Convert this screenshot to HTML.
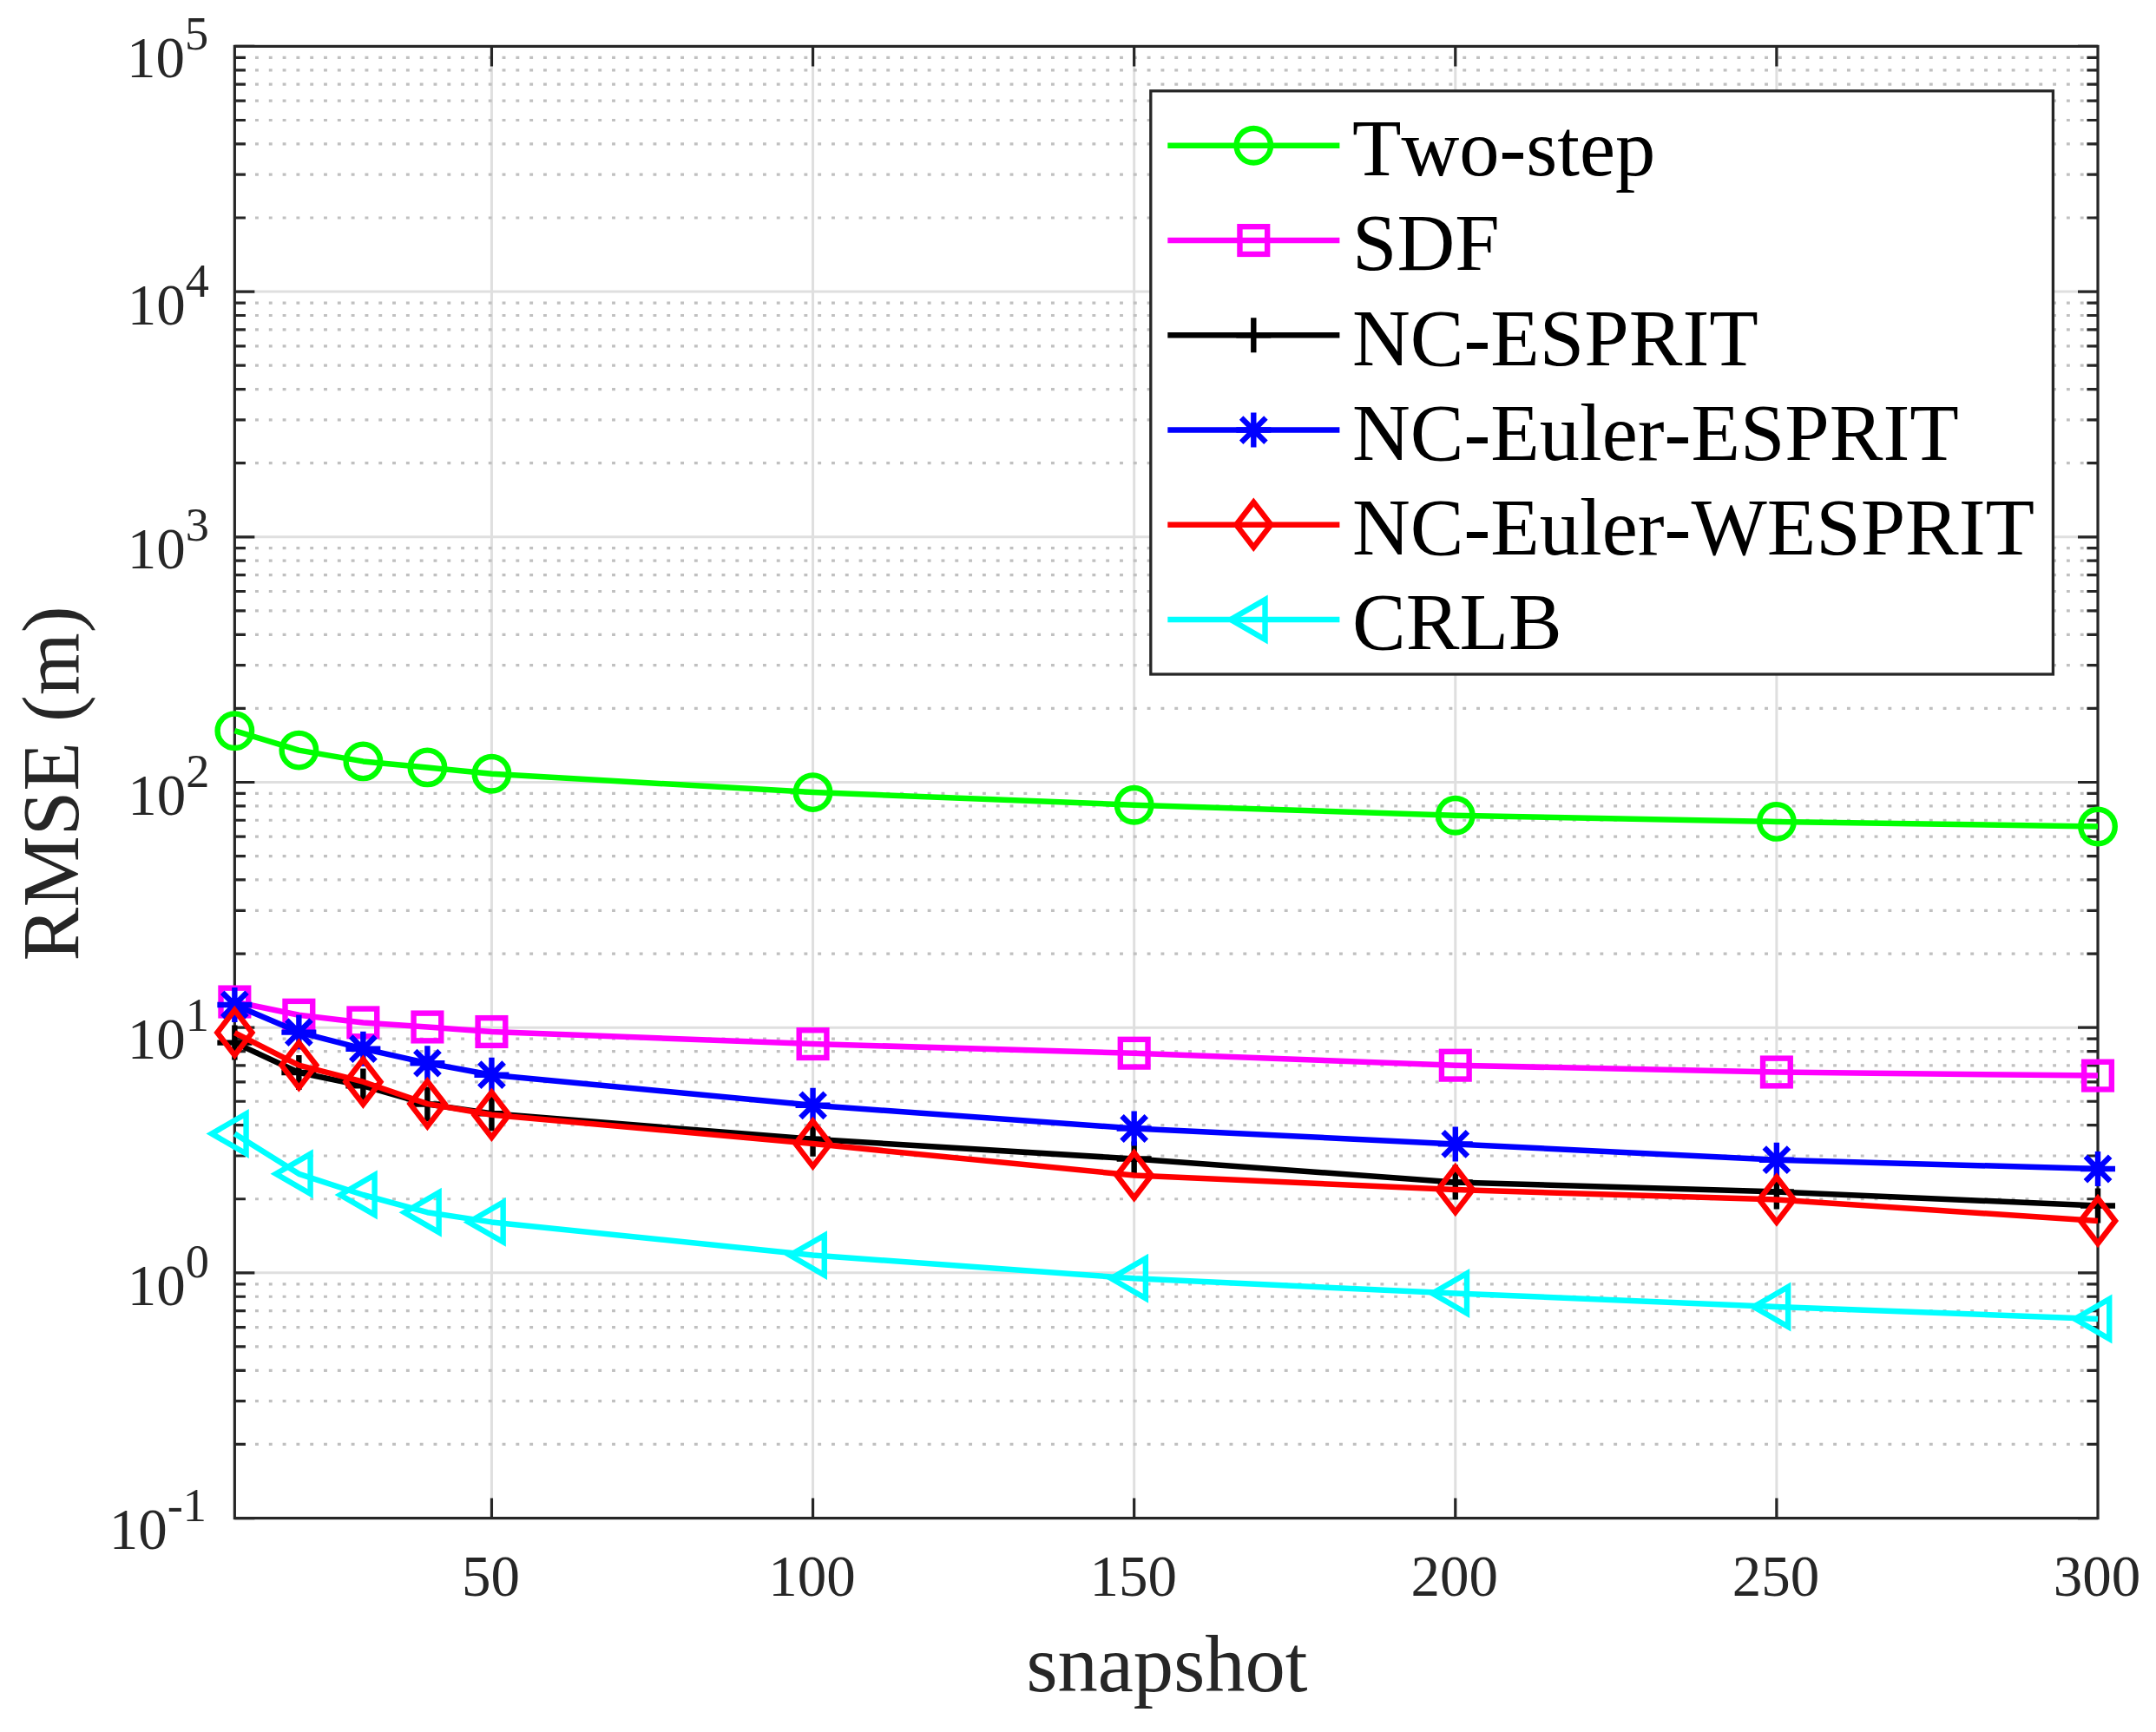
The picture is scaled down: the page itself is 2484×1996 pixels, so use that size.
<!DOCTYPE html>
<html lang="en"><head><meta charset="utf-8"><title>RMSE versus snapshot</title>
<style>html,body{margin:0;padding:0;background:#fff}svg{display:block}text{font-family:"Liberation Serif", "DejaVu Serif", serif;white-space:pre;font-kerning:none}.tk{font-size:67px;fill:#262626}.sp{font-size:54.3px;fill:#262626}.lb{font-size:92.6px;fill:#262626}.lg{font-size:92.5px;fill:#000}</style></head><body>
<svg width="2484" height="1996" viewBox="0 0 2484 1996">
<rect width="2484" height="1996" fill="#fff"/>
<path d="M566.44 53.4V1749.55M936.55 53.4V1749.55M1306.66 53.4V1749.55M1676.78 53.4V1749.55M2046.89 53.4V1749.55M270.35 1466.86H2417M270.35 1184.17H2417M270.35 901.48H2417M270.35 618.78H2417M270.35 336.09H2417" fill="none" stroke="#dfdfdf" stroke-width="3"/>
<path d="M294 1664.45H2417M294 1614.67H2417M294 1579.35H2417M294 1551.96H2417M294 1529.57H2417M294 1510.65H2417M294 1494.25H2417M294 1479.79H2417M294 1381.76H2417M294 1331.98H2417M294 1296.66H2417M294 1269.27H2417M294 1246.88H2417M294 1227.96H2417M294 1211.56H2417M294 1197.1H2417M294 1099.07H2417M294 1049.29H2417M294 1013.97H2417M294 986.57H2417M294 964.19H2417M294 945.26H2417M294 928.87H2417M294 914.41H2417M294 816.38H2417M294 766.6H2417M294 731.28H2417M294 703.88H2417M294 681.5H2417M294 662.57H2417M294 646.18H2417M294 631.72H2417M294 533.68H2417M294 483.91H2417M294 448.59H2417M294 421.19H2417M294 398.81H2417M294 379.88H2417M294 363.49H2417M294 349.03H2417M294 250.99H2417M294 201.21H2417M294 165.89H2417M294 138.5H2417M294 116.11H2417M294 97.19H2417M294 80.8H2417M294 66.34H2417" fill="none" stroke="#c0c0c0" stroke-width="3.2" stroke-dasharray="3.9 11.91"/>
<path d="M566.44 1749.55V1726.55M566.44 53.4V76.4M936.55 1749.55V1726.55M936.55 53.4V76.4M1306.66 1749.55V1726.55M1306.66 53.4V76.4M1676.78 1749.55V1726.55M1676.78 53.4V76.4M2046.89 1749.55V1726.55M2046.89 53.4V76.4M270.35 1749.55H293.35M2417 1749.55H2394M270.35 1466.86H293.35M2417 1466.86H2394M270.35 1184.17H293.35M2417 1184.17H2394M270.35 901.48H293.35M2417 901.48H2394M270.35 618.78H293.35M2417 618.78H2394M270.35 336.09H293.35M2417 336.09H2394M270.35 53.4H293.35M2417 53.4H2394M270.35 1664.45H282.95M2417 1664.45H2404.4M270.35 1614.67H282.95M2417 1614.67H2404.4M270.35 1579.35H282.95M2417 1579.35H2404.4M270.35 1551.96H282.95M2417 1551.96H2404.4M270.35 1529.57H282.95M2417 1529.57H2404.4M270.35 1510.65H282.95M2417 1510.65H2404.4M270.35 1494.25H282.95M2417 1494.25H2404.4M270.35 1479.79H282.95M2417 1479.79H2404.4M270.35 1381.76H282.95M2417 1381.76H2404.4M270.35 1331.98H282.95M2417 1331.98H2404.4M270.35 1296.66H282.95M2417 1296.66H2404.4M270.35 1269.27H282.95M2417 1269.27H2404.4M270.35 1246.88H282.95M2417 1246.88H2404.4M270.35 1227.96H282.95M2417 1227.96H2404.4M270.35 1211.56H282.95M2417 1211.56H2404.4M270.35 1197.1H282.95M2417 1197.1H2404.4M270.35 1099.07H282.95M2417 1099.07H2404.4M270.35 1049.29H282.95M2417 1049.29H2404.4M270.35 1013.97H282.95M2417 1013.97H2404.4M270.35 986.57H282.95M2417 986.57H2404.4M270.35 964.19H282.95M2417 964.19H2404.4M270.35 945.26H282.95M2417 945.26H2404.4M270.35 928.87H282.95M2417 928.87H2404.4M270.35 914.41H282.95M2417 914.41H2404.4M270.35 816.38H282.95M2417 816.38H2404.4M270.35 766.6H282.95M2417 766.6H2404.4M270.35 731.28H282.95M2417 731.28H2404.4M270.35 703.88H282.95M2417 703.88H2404.4M270.35 681.5H282.95M2417 681.5H2404.4M270.35 662.57H282.95M2417 662.57H2404.4M270.35 646.18H282.95M2417 646.18H2404.4M270.35 631.72H282.95M2417 631.72H2404.4M270.35 533.68H282.95M2417 533.68H2404.4M270.35 483.91H282.95M2417 483.91H2404.4M270.35 448.59H282.95M2417 448.59H2404.4M270.35 421.19H282.95M2417 421.19H2404.4M270.35 398.81H282.95M2417 398.81H2404.4M270.35 379.88H282.95M2417 379.88H2404.4M270.35 363.49H282.95M2417 363.49H2404.4M270.35 349.03H282.95M2417 349.03H2404.4M270.35 250.99H282.95M2417 250.99H2404.4M270.35 201.21H282.95M2417 201.21H2404.4M270.35 165.89H282.95M2417 165.89H2404.4M270.35 138.5H282.95M2417 138.5H2404.4M270.35 116.11H282.95M2417 116.11H2404.4M270.35 97.19H282.95M2417 97.19H2404.4M270.35 80.8H282.95M2417 80.8H2404.4M270.35 66.34H282.95M2417 66.34H2404.4" fill="none" stroke="#262626" stroke-width="3.2"/>
<rect x="270.35" y="53.4" width="2146.65" height="1696.15" fill="none" stroke="#262626" stroke-width="3.2"/>
<text class="tk" x="565.44" y="1839.1" text-anchor="middle">50</text>
<text class="tk" x="935.55" y="1839.1" text-anchor="middle">100</text>
<text class="tk" x="1305.66" y="1839.1" text-anchor="middle">150</text>
<text class="tk" x="1675.78" y="1839.1" text-anchor="middle">200</text>
<text class="tk" x="2045.89" y="1839.1" text-anchor="middle">250</text>
<text class="tk" x="2416" y="1839.1" text-anchor="middle">300</text>
<text class="tk" x="238" y="1785" text-anchor="end">10<tspan class="sp" dy="-31.6">-1</tspan></text>
<text class="tk" x="241" y="1503.91" text-anchor="end">10<tspan class="sp" dy="-31.6">0</tspan></text>
<text class="tk" x="241" y="1219.77" text-anchor="end">10<tspan class="sp" dy="-31.6">1</tspan></text>
<text class="tk" x="241.3" y="938.88" text-anchor="end">10<tspan class="sp" dy="-31.6">2</tspan></text>
<text class="tk" x="240.9" y="654.78" text-anchor="end">10<tspan class="sp" dy="-31.6">3</tspan></text>
<text class="tk" x="241" y="373.79" text-anchor="end">10<tspan class="sp" dy="-31.6">4</tspan></text>
<text class="tk" x="240.2" y="88.9" text-anchor="end">10<tspan class="sp" dy="-31.6">5</tspan></text>
<text class="lb" x="1344.47" y="1948.7" text-anchor="middle">snapshot</text>
<text class="lb" transform="translate(90.1 902.88) rotate(-90)" text-anchor="middle">RMSE (m)</text>
<polyline points="270.35,842.2 344.37,864.6 418.39,877.4 492.42,884.4 566.44,891.8 936.55,913.1 1306.66,927.7 1676.78,939.8 2046.89,946.9 2417,952.5" fill="none" stroke="#00ff00" stroke-width="6.5" stroke-linejoin="round"/>
<g><circle cx="270.35" cy="842.2" r="19.75" fill="none" stroke="#00ff00" stroke-width="6.4"/><circle cx="344.37" cy="864.6" r="19.75" fill="none" stroke="#00ff00" stroke-width="6.4"/><circle cx="418.39" cy="877.4" r="19.75" fill="none" stroke="#00ff00" stroke-width="6.4"/><circle cx="492.42" cy="884.4" r="19.75" fill="none" stroke="#00ff00" stroke-width="6.4"/><circle cx="566.44" cy="891.8" r="19.75" fill="none" stroke="#00ff00" stroke-width="6.4"/><circle cx="936.55" cy="913.1" r="19.75" fill="none" stroke="#00ff00" stroke-width="6.4"/><circle cx="1306.66" cy="927.7" r="19.75" fill="none" stroke="#00ff00" stroke-width="6.4"/><circle cx="1676.78" cy="939.8" r="19.75" fill="none" stroke="#00ff00" stroke-width="6.4"/><circle cx="2046.89" cy="946.9" r="19.75" fill="none" stroke="#00ff00" stroke-width="6.4"/><circle cx="2417" cy="952.5" r="19.75" fill="none" stroke="#00ff00" stroke-width="6.4"/></g>
<polyline points="270.35,1154.5 344.37,1169.7 418.39,1178.4 492.42,1183.5 566.44,1189 936.55,1203.1 1306.66,1213.7 1676.78,1227.7 2046.89,1235.5 2417,1239.6" fill="none" stroke="#ff00ff" stroke-width="6.5" stroke-linejoin="round"/>
<g><rect x="254.5" y="1138.65" width="31.7" height="31.7" fill="none" stroke="#ff00ff" stroke-width="6.4"/><rect x="328.52" y="1153.85" width="31.7" height="31.7" fill="none" stroke="#ff00ff" stroke-width="6.4"/><rect x="402.54" y="1162.55" width="31.7" height="31.7" fill="none" stroke="#ff00ff" stroke-width="6.4"/><rect x="476.57" y="1167.65" width="31.7" height="31.7" fill="none" stroke="#ff00ff" stroke-width="6.4"/><rect x="550.59" y="1173.15" width="31.7" height="31.7" fill="none" stroke="#ff00ff" stroke-width="6.4"/><rect x="920.7" y="1187.25" width="31.7" height="31.7" fill="none" stroke="#ff00ff" stroke-width="6.4"/><rect x="1290.81" y="1197.85" width="31.7" height="31.7" fill="none" stroke="#ff00ff" stroke-width="6.4"/><rect x="1660.93" y="1211.85" width="31.7" height="31.7" fill="none" stroke="#ff00ff" stroke-width="6.4"/><rect x="2031.04" y="1219.65" width="31.7" height="31.7" fill="none" stroke="#ff00ff" stroke-width="6.4"/><rect x="2401.15" y="1223.75" width="31.7" height="31.7" fill="none" stroke="#ff00ff" stroke-width="6.4"/></g>
<polyline points="270.35,1201.6 344.37,1236 418.39,1251.4 492.42,1272.5 566.44,1283.3 936.55,1312.8 1306.66,1335.5 1676.78,1362.5 2046.89,1373.5 2417,1389.5" fill="none" stroke="#000000" stroke-width="6.5" stroke-linejoin="round"/>
<g><path d="M250.35 1201.6H290.35M270.35 1181.6V1221.6" fill="none" stroke="#000000" stroke-width="6.4"/><path d="M324.37 1236H364.37M344.37 1216V1256" fill="none" stroke="#000000" stroke-width="6.4"/><path d="M398.39 1251.4H438.39M418.39 1231.4V1271.4" fill="none" stroke="#000000" stroke-width="6.4"/><path d="M472.42 1272.5H512.42M492.42 1252.5V1292.5" fill="none" stroke="#000000" stroke-width="6.4"/><path d="M546.44 1283.3H586.44M566.44 1263.3V1303.3" fill="none" stroke="#000000" stroke-width="6.4"/><path d="M916.55 1312.8H956.55M936.55 1292.8V1332.8" fill="none" stroke="#000000" stroke-width="6.4"/><path d="M1286.66 1335.5H1326.66M1306.66 1315.5V1355.5" fill="none" stroke="#000000" stroke-width="6.4"/><path d="M1656.78 1362.5H1696.78M1676.78 1342.5V1382.5" fill="none" stroke="#000000" stroke-width="6.4"/><path d="M2026.89 1373.5H2066.89M2046.89 1353.5V1393.5" fill="none" stroke="#000000" stroke-width="6.4"/><path d="M2397 1389.5H2437M2417 1369.5V1409.5" fill="none" stroke="#000000" stroke-width="6.4"/></g>
<polyline points="270.35,1158 344.37,1189.6 418.39,1208.7 492.42,1225.2 566.44,1238.7 936.55,1273.8 1306.66,1300.5 1676.78,1318.4 2046.89,1336.7 2417,1347" fill="none" stroke="#0000ff" stroke-width="6.5" stroke-linejoin="round"/>
<g><path d="M250.35 1158H290.35M270.35 1138V1178M256.21 1143.86L284.49 1172.14M256.21 1172.14L284.49 1143.86" fill="none" stroke="#0000ff" stroke-width="6.4"/><path d="M324.37 1189.6H364.37M344.37 1169.6V1209.6M330.23 1175.46L358.51 1203.74M330.23 1203.74L358.51 1175.46" fill="none" stroke="#0000ff" stroke-width="6.4"/><path d="M398.39 1208.7H438.39M418.39 1188.7V1228.7M404.25 1194.56L432.54 1222.84M404.25 1222.84L432.54 1194.56" fill="none" stroke="#0000ff" stroke-width="6.4"/><path d="M472.42 1225.2H512.42M492.42 1205.2V1245.2M478.28 1211.06L506.56 1239.34M478.28 1239.34L506.56 1211.06" fill="none" stroke="#0000ff" stroke-width="6.4"/><path d="M546.44 1238.7H586.44M566.44 1218.7V1258.7M552.3 1224.56L580.58 1252.84M552.3 1252.84L580.58 1224.56" fill="none" stroke="#0000ff" stroke-width="6.4"/><path d="M916.55 1273.8H956.55M936.55 1253.8V1293.8M922.41 1259.66L950.69 1287.94M922.41 1287.94L950.69 1259.66" fill="none" stroke="#0000ff" stroke-width="6.4"/><path d="M1286.66 1300.5H1326.66M1306.66 1280.5V1320.5M1292.52 1286.36L1320.81 1314.64M1292.52 1314.64L1320.81 1286.36" fill="none" stroke="#0000ff" stroke-width="6.4"/><path d="M1656.78 1318.4H1696.78M1676.78 1298.4V1338.4M1662.63 1304.26L1690.92 1332.54M1662.63 1332.54L1690.92 1304.26" fill="none" stroke="#0000ff" stroke-width="6.4"/><path d="M2026.89 1336.7H2066.89M2046.89 1316.7V1356.7M2032.75 1322.56L2061.03 1350.84M2032.75 1350.84L2061.03 1322.56" fill="none" stroke="#0000ff" stroke-width="6.4"/><path d="M2397 1347H2437M2417 1327V1367M2402.86 1332.86L2431.14 1361.14M2402.86 1361.14L2431.14 1332.86" fill="none" stroke="#0000ff" stroke-width="6.4"/></g>
<polyline points="270.35,1190.1 344.37,1227.6 418.39,1246.7 492.42,1272.1 566.44,1284.7 936.55,1318.1 1306.66,1354.5 1676.78,1371 2046.89,1382.5 2417,1407" fill="none" stroke="#ff0000" stroke-width="6.5" stroke-linejoin="round"/>
<g><path d="M270.35 1164.1L290.35 1190.1L270.35 1216.1L250.35 1190.1Z" stroke-miterlimit="10" fill="none" stroke="#ff0000" stroke-width="6.4"/><path d="M344.37 1201.6L364.37 1227.6L344.37 1253.6L324.37 1227.6Z" stroke-miterlimit="10" fill="none" stroke="#ff0000" stroke-width="6.4"/><path d="M418.39 1220.7L438.39 1246.7L418.39 1272.7L398.39 1246.7Z" stroke-miterlimit="10" fill="none" stroke="#ff0000" stroke-width="6.4"/><path d="M492.42 1246.1L512.42 1272.1L492.42 1298.1L472.42 1272.1Z" stroke-miterlimit="10" fill="none" stroke="#ff0000" stroke-width="6.4"/><path d="M566.44 1258.7L586.44 1284.7L566.44 1310.7L546.44 1284.7Z" stroke-miterlimit="10" fill="none" stroke="#ff0000" stroke-width="6.4"/><path d="M936.55 1292.1L956.55 1318.1L936.55 1344.1L916.55 1318.1Z" stroke-miterlimit="10" fill="none" stroke="#ff0000" stroke-width="6.4"/><path d="M1306.66 1328.5L1326.66 1354.5L1306.66 1380.5L1286.66 1354.5Z" stroke-miterlimit="10" fill="none" stroke="#ff0000" stroke-width="6.4"/><path d="M1676.78 1345L1696.78 1371L1676.78 1397L1656.78 1371Z" stroke-miterlimit="10" fill="none" stroke="#ff0000" stroke-width="6.4"/><path d="M2046.89 1356.5L2066.89 1382.5L2046.89 1408.5L2026.89 1382.5Z" stroke-miterlimit="10" fill="none" stroke="#ff0000" stroke-width="6.4"/><path d="M2417 1381L2437 1407L2417 1433L2397 1407Z" stroke-miterlimit="10" fill="none" stroke="#ff0000" stroke-width="6.4"/></g>
<polyline points="270.35,1306.5 344.37,1352.8 418.39,1377 492.42,1397.2 566.44,1408.4 936.55,1446.6 1306.66,1473.3 1676.78,1490.5 2046.89,1506 2417,1520" fill="none" stroke="#00ffff" stroke-width="6.5" stroke-linejoin="round"/>
<g><path d="M243.91 1306.5L283.57 1283.6L283.57 1329.4Z" stroke-miterlimit="10" fill="none" stroke="#00ffff" stroke-width="6.4"/><path d="M317.93 1352.8L357.59 1329.9L357.59 1375.7Z" stroke-miterlimit="10" fill="none" stroke="#00ffff" stroke-width="6.4"/><path d="M391.95 1377L431.62 1354.1L431.62 1399.9Z" stroke-miterlimit="10" fill="none" stroke="#00ffff" stroke-width="6.4"/><path d="M465.97 1397.2L505.64 1374.3L505.64 1420.1Z" stroke-miterlimit="10" fill="none" stroke="#00ffff" stroke-width="6.4"/><path d="M540 1408.4L579.66 1385.5L579.66 1431.3Z" stroke-miterlimit="10" fill="none" stroke="#00ffff" stroke-width="6.4"/><path d="M910.11 1446.6L949.77 1423.7L949.77 1469.5Z" stroke-miterlimit="10" fill="none" stroke="#00ffff" stroke-width="6.4"/><path d="M1280.22 1473.3L1319.89 1450.4L1319.89 1496.2Z" stroke-miterlimit="10" fill="none" stroke="#00ffff" stroke-width="6.4"/><path d="M1650.33 1490.5L1690 1467.6L1690 1513.4Z" stroke-miterlimit="10" fill="none" stroke="#00ffff" stroke-width="6.4"/><path d="M2020.45 1506L2060.11 1483.1L2060.11 1528.9Z" stroke-miterlimit="10" fill="none" stroke="#00ffff" stroke-width="6.4"/><path d="M2390.56 1520L2430.22 1497.1L2430.22 1542.9Z" stroke-miterlimit="10" fill="none" stroke="#00ffff" stroke-width="6.4"/></g>
<rect x="1325.8" y="104.8" width="1039.6" height="672.2" fill="#fff" stroke="#262626" stroke-width="3.3"/>
<path d="M1345.3 167.8H1543.4" stroke="#00ff00" stroke-width="6.5" fill="none"/>
<circle cx="1444.3" cy="167.8" r="19.75" fill="none" stroke="#00ff00" stroke-width="6.4"/>
<text class="lg" x="1558" y="202.2">Two-step</text>
<path d="M1345.3 277.05H1543.4" stroke="#ff00ff" stroke-width="6.5" fill="none"/>
<rect x="1428.45" y="261.2" width="31.7" height="31.7" fill="none" stroke="#ff00ff" stroke-width="6.4"/>
<text class="lg" x="1558" y="311.45">SDF</text>
<path d="M1345.3 386.3H1543.4" stroke="#000000" stroke-width="6.5" fill="none"/>
<path d="M1424.3 386.3H1464.3M1444.3 366.3V406.3" fill="none" stroke="#000000" stroke-width="6.4"/>
<text class="lg" x="1558" y="420.7">NC-ESPRIT</text>
<path d="M1345.3 495.55H1543.4" stroke="#0000ff" stroke-width="6.5" fill="none"/>
<path d="M1424.3 495.55H1464.3M1444.3 475.55V515.55M1430.16 481.41L1458.44 509.69M1430.16 509.69L1458.44 481.41" fill="none" stroke="#0000ff" stroke-width="6.4"/>
<text class="lg" x="1558" y="529.95">NC-Euler-ESPRIT</text>
<path d="M1345.3 604.8H1543.4" stroke="#ff0000" stroke-width="6.5" fill="none"/>
<path d="M1444.3 578.8L1464.3 604.8L1444.3 630.8L1424.3 604.8Z" stroke-miterlimit="10" fill="none" stroke="#ff0000" stroke-width="6.4"/>
<text class="lg" x="1558" y="639.2">NC-Euler-WESPRIT</text>
<path d="M1345.3 714.05H1543.4" stroke="#00ffff" stroke-width="6.5" fill="none"/>
<path d="M1417.86 714.05L1457.52 691.15L1457.52 736.95Z" stroke-miterlimit="10" fill="none" stroke="#00ffff" stroke-width="6.4"/>
<text class="lg" x="1558" y="748.45">CRLB</text>
</svg></body></html>
